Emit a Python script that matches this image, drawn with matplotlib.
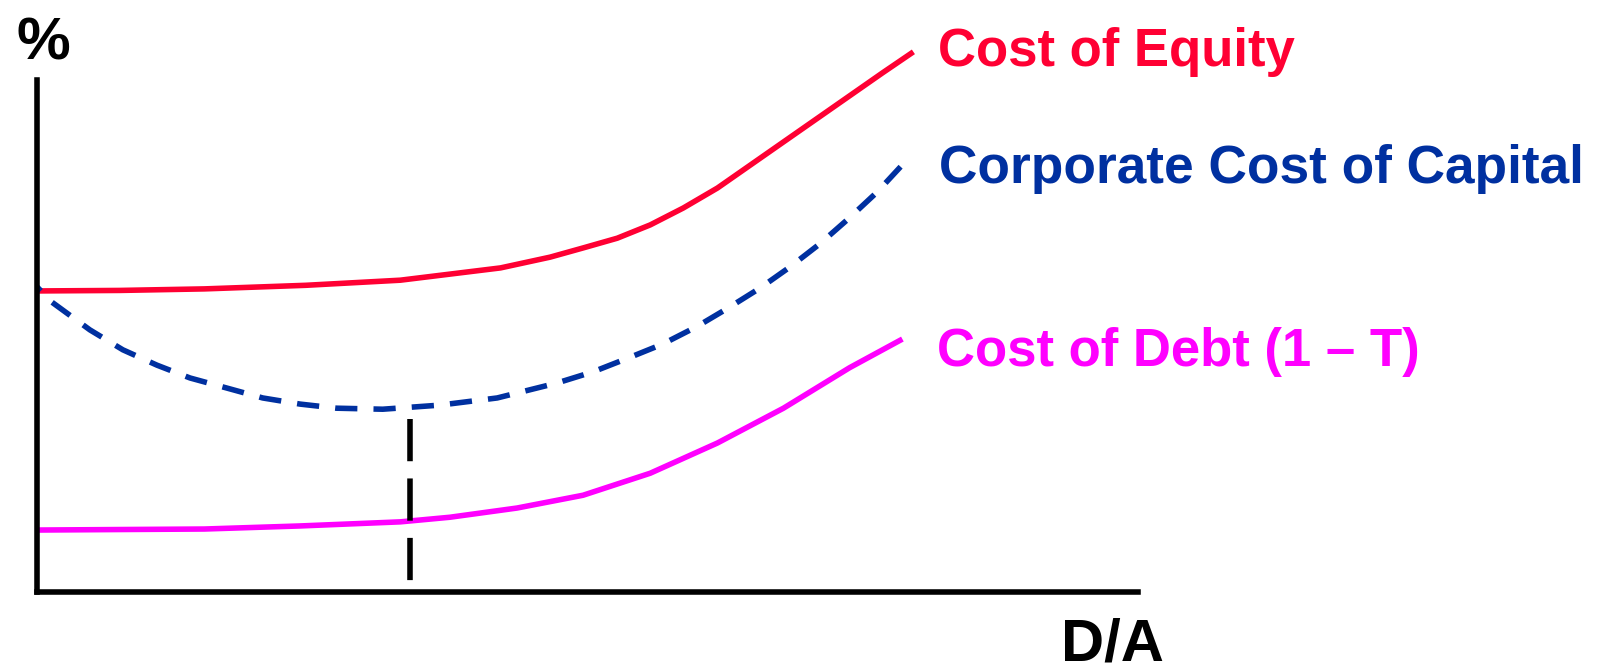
import matplotlib.pyplot as plt

# D/A on x (0..1), cost in % on y (arbitrary scale 0..10)
equity_x = [0.0, 0.075, 0.152, 0.244, 0.330, 0.421, 0.466, 0.496, 0.527, 0.557,
            0.587, 0.618, 0.648, 0.678, 0.708, 0.738, 0.768, 0.796]
equity_y = [5.88, 5.89, 5.92, 5.99, 6.09, 6.33, 6.54, 6.72, 6.91, 7.17,
            7.50, 7.89, 8.34, 8.79, 9.24, 9.69, 10.14, 10.55]

wacc_x = [0.0, 0.0136, 0.048, 0.078, 0.109, 0.139, 0.173, 0.205, 0.239, 0.272, 0.314,
          0.366, 0.418, 0.472, 0.505, 0.537, 0.568, 0.599, 0.628, 0.657, 0.684, 0.711,
          0.737, 0.763, 0.791]
wacc_y = [5.96, 5.66, 5.12, 4.73, 4.43, 4.18, 3.98, 3.79, 3.67, 3.59, 3.57,
          3.65, 3.79, 4.08, 4.30, 4.57, 4.84, 5.18, 5.55, 5.94, 6.35, 6.80,
          7.29, 7.81, 8.46]

debt_x = [0.0, 0.075, 0.152, 0.239, 0.330, 0.375, 0.436, 0.496, 0.557, 0.618,
          0.678, 0.738, 0.786]
debt_y = [1.21, 1.22, 1.23, 1.29, 1.37, 1.46, 1.64, 1.89, 2.32, 2.91,
          3.59, 4.38, 4.94]

optimum_da = 0.339
optimum_top = 3.38

labels = ['Cost of Equity', 'Corporate Cost of Capital', 'Cost of Debt (1 \u2013 T)']
colors = ['#FF0033', '#0030A0', '#FF00FF']

W, H = 1601, 671
fig = plt.figure(figsize=(W / 100, H / 100), dpi=100)
ax = fig.add_axes([37 / W, 1 - 592 / H, (1138 - 37) / W, (592 - 80) / H])
ax.set_xlim(0, 1)
ax.set_ylim(0, 10)

lw = 4.0
ax.plot(equity_x, equity_y, color=colors[0], lw=lw, clip_on=False,
        solid_capstyle='butt', solid_joinstyle='round')
ax.plot(wacc_x, wacc_y, color=colors[1], lw=lw, clip_on=False,
        linestyle=(3.0, (4.0, 2.9)), dash_capstyle='butt')
ax.plot(debt_x, debt_y, color=colors[2], lw=lw, clip_on=False,
        solid_capstyle='butt', solid_joinstyle='round')
ax.plot([optimum_da, optimum_da], [optimum_top, 0], color='black', lw=lw,
        linestyle=(0, (7.6, 3.1)), dash_capstyle='butt')

for side in ['top', 'right']:
    ax.spines[side].set_visible(False)
for side in ['left', 'bottom']:
    ax.spines[side].set_linewidth(lw)
    ax.spines[side].set_color('black')
ax.set_xticks([])
ax.set_yticks([])
ax.patch.set_visible(False)

font = dict(family='Liberation Sans', weight='bold')


def put(text, x, y, size, color='black'):
    fig.text(x / W, 1 - y / H, text, fontsize=size, color=color,
             ha='left', va='baseline', **font)


put('%', 16, 60, 43.5)
put('D/A', 1061, 660, 43)
put(labels[0], 938, 66, 38, colors[0])
put(labels[1], 939, 183, 38.3, colors[1])
put(labels[2], 937, 366, 38, colors[2])

fig.savefig('out.png', dpi=100)
